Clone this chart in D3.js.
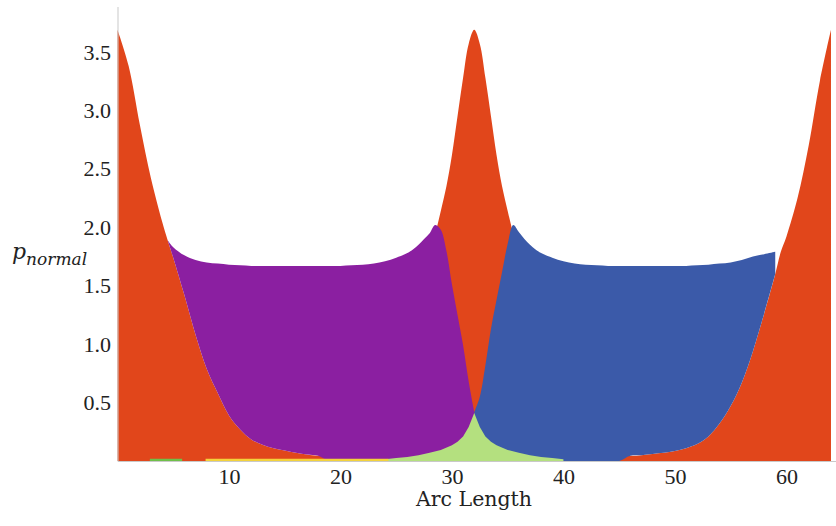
<!DOCTYPE html>
<html>
<head>
<meta charset="utf-8">
<script src="https://cdn.jsdelivr.net/npm/d3@7"></script>
<style>
  body { margin: 0; background: #fff; }
  svg { display: block; }
  .tick text { font-family: "Liberation Serif", serif; font-size: 22px; fill: #222; }
</style>
</head>
<body>
<svg width="836" height="526"></svg>
<script>
// sample positions along the arc
var arc = [0,1,2,3,4,4.5,5,6,7,8,9,10,11,12,13,14,15,16,17,18,19,20,21,22,23,24,25,26,
  26.5,27,27.5,28,28.5,29,29.5,30,30.5,31,31.5,32,32.5,33,33.5,34,34.5,35,35.5,36,36.5,37,37.5,
  38,39,40,41,42,43,44,45,46,47,48,49,50,51,52,53,54,55,56,57,58,59,59.5,60,61,62,63,64];

// red curve
var redP = [3.69,3.38,2.88,2.42,2.05,1.89,1.74,1.42,1.08,0.79,0.58,0.39,0.27,0.185,0.14,0.11,0.09,0.07,0.055,0.045,0.06,0.09,0.14,0.22,0.34,0.5,0.72,1.0,
  1.17,1.37,1.55,1.74,1.94,2.14,2.35,2.62,2.95,3.28,3.57,3.69,3.57,3.28,2.95,2.62,2.35,2.14,1.94,1.74,1.55,1.37,1.17,
  1.0,0.72,0.5,0.34,0.22,0.14,0.09,0.06,0.045,0.05,0.06,0.07,0.085,0.11,0.145,0.21,0.32,0.47,0.67,0.94,1.26,1.6,1.79,1.92,2.25,2.7,3.25,3.69];

// purple curve (first half)
var purpleP = [null,null,null,null,null,1.89,1.83,1.76,1.72,1.70,1.69,1.68,1.675,1.67,1.67,1.67,1.67,1.67,1.67,1.67,1.67,1.67,1.675,1.68,1.69,1.71,1.74,1.78,
  1.81,1.85,1.90,1.95,2.02,1.98,1.80,1.51,1.25,0.99,0.68,0.42,null,null,null,null,null,null,null,null,null,null,null,
  null,null,null,null,null,null,null,null,null,null,null,null,null,null,null,null,null,null,null,null,null,null,null,null,null,null,null,null];

// blue curve (second half)
var blueP = [null,null,null,null,null,null,null,null,null,null,null,null,null,null,null,null,null,null,null,null,null,null,null,null,null,null,null,null,
  null,null,null,null,null,null,null,null,null,null,null,0.42,0.55,0.82,1.13,1.38,1.62,1.86,2.02,1.96,1.90,1.85,1.81,
  1.78,1.74,1.71,1.69,1.68,1.675,1.67,1.67,1.67,1.67,1.67,1.67,1.67,1.67,1.675,1.68,1.69,1.70,1.72,1.75,1.77,1.79,null,null,null,null,null];

// green cusp around the middle
var greenArc = [24,25,26,27,28,29,30,30.5,31,31.5,32,32.5,33,33.5,34,35,36,37,38,39,40];
var greenP = [0.015,0.025,0.035,0.05,0.07,0.095,0.135,0.165,0.21,0.29,0.41,0.29,0.21,0.165,0.135,0.095,0.07,0.05,0.035,0.025,0.015];

// thin strips on the baseline
var limeArc = [2.9,5.8], limeP = [0.02,0.02];
var yellowArc = [7.9,24.3], yellowP = [0.02,0.02];

var xTicks = [10,20,30,40,50,60];
var yTicks = [0.5,1.0,1.5,2.0,2.5,3.0,3.5];

var svg = d3.select("svg");
var x = d3.scaleLinear().domain([0,64.45]).range([117.5,836]);
var y = d3.scaleLinear().domain([0,3.89]).range([461,6.5]);

var pts = arc.map(function(a,i){ return {a:a, r:redP[i], p:purpleP[i], b:blueP[i]}; });
var curve = d3.curveCatmullRom.alpha(0.5);

// red, full width
svg.append("path")
  .attr("fill","#e1461b")
  .attr("d", d3.area().curve(curve)
    .x(function(d){ return x(d.a); })
    .y0(y(0))
    .y1(function(d){ return y(d.r); })(pts));

// purple sits on the red tail on the left
svg.append("path")
  .attr("fill","#8b1fa1")
  .attr("d", d3.area().curve(curve)
    .defined(function(d){ return d.p != null; })
    .x(function(d){ return x(d.a); })
    .y0(function(d){ return y(d.a <= 18 ? d.r : 0); })
    .y1(function(d){ return y(d.p); })(pts));

// blue sits on the red tail on the right
svg.append("path")
  .attr("fill","#3b5aa9")
  .attr("d", d3.area().curve(curve)
    .defined(function(d){ return d.b != null; })
    .x(function(d){ return x(d.a); })
    .y0(function(d){ return y(d.a >= 46 ? d.r : 0); })
    .y1(function(d){ return y(d.b); })(pts));

function band(xs, vs, col) {
  svg.append("path")
    .attr("fill", col)
    .attr("d", d3.area()
      .x(function(d,i){ return x(xs[i]); })
      .y0(y(0))
      .y1(function(d){ return y(d); })(vs));
}
band(greenArc, greenP, "#b4e07f");
band(limeArc, limeP, "#6fbf4a");
band(yellowArc, yellowP, "#f3d23c");

// axes
var xAxis = svg.append("g")
  .attr("transform","translate(0," + y(0) + ")")
  .call(d3.axisBottom(x).tickValues(xTicks).tickSize(0).tickPadding(7));
var yAxis = svg.append("g")
  .attr("transform","translate(" + x(0) + ",0)")
  .call(d3.axisLeft(y).tickValues(yTicks).tickSize(0).tickPadding(6.5).tickFormat(d3.format(".1f")));
xAxis.select(".domain").attr("stroke","#c9c9c9");
yAxis.select(".domain").attr("stroke","#c9c9c9");

svg.append("text")
  .attr("x", 474).attr("y", 506)
  .attr("text-anchor","middle")
  .style("font-family","'DejaVu Serif', serif")
  .style("font-size","20.5px")
  .attr("fill","#222")
  .text("Arc Length");

var lab = svg.append("text")
  .attr("x", 12).attr("y", 259)
  .style("font-family","'DejaVu Serif', serif")
  .style("font-style","italic")
  .attr("fill","#222");
lab.append("tspan").style("font-size","22px").text("p");
lab.append("tspan").attr("dy", 6).style("font-size","17px").text("normal");
</script>
</body>
</html>
